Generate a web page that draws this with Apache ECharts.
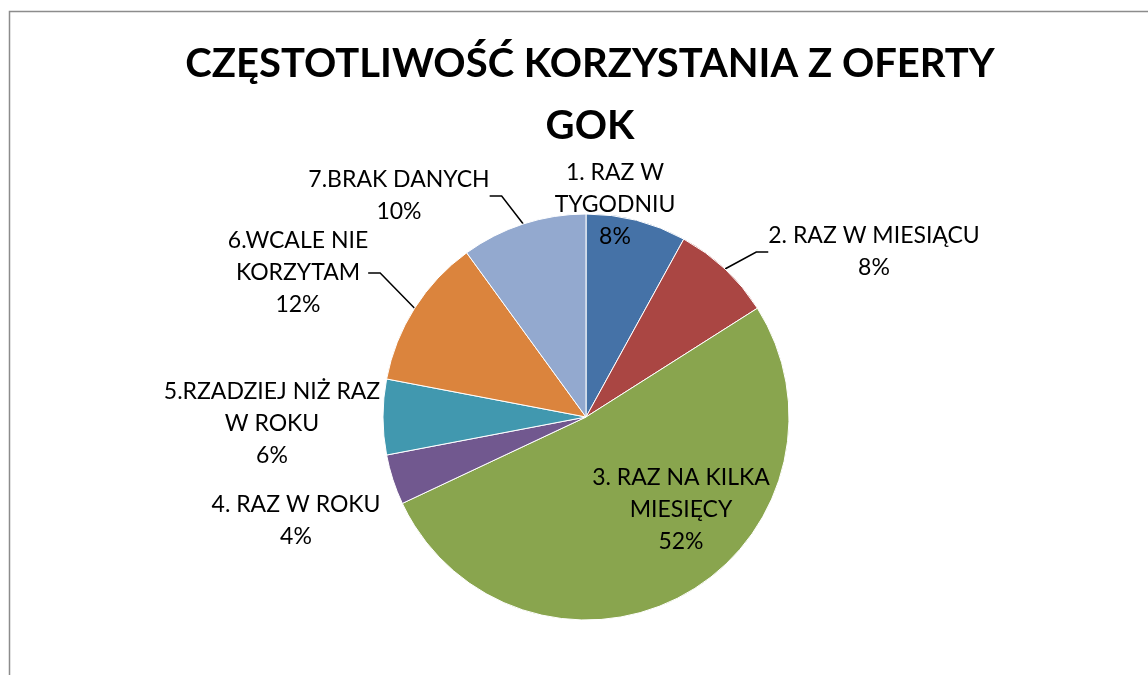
<!DOCTYPE html>
<html>
<head>
<meta charset="utf-8">
<script src="https://cdn.jsdelivr.net/npm/echarts@6/dist/echarts.min.js"></script>
<style>
  html, body { margin: 0; padding: 0; background: #fff; }
  #chart { width: 1148px; height: 675px; }
</style>
</head>
<body>
<div id="chart"></div>
<script>
// data
const categories = [
  '1. RAZ W\nTYGODNIU',
  '2. RAZ W MIESIĄCU',
  '3. RAZ NA KILKA\nMIESIĘCY',
  '4. RAZ W ROKU',
  '5.RZADZIEJ NIŻ RAZ\nW ROKU',
  '6.WCALE NIE\nKORZYTAM',
  '7.BRAK DANYCH'
]
const values = [8, 8, 52, 4, 6, 12, 10]
const colors = ['#4572a7', '#aa4643', '#89a54e', '#71588f', '#4198af', '#db843d', '#93a9cf']

// label centres (px), Excel-like manual placement
const labelPos = [
  [615, 205], [874, 252], [681, 510], [296, 521], [272, 424], [298, 273], [399, 196]
]
const noLine = [2, 3, 4]

const chart = echarts.init(document.getElementById('chart'))

chart.setOption({
  animation: false,
  title: {
    text: 'CZĘSTOTLIWOŚĆ KORZYSTANIA Z OFERTY\nGOK',
    left: 585,
    top: 28,
    textAlign: 'center',
    textStyle: {
      fontFamily: 'Lato',
      fontWeight: 'bold',
      fontSize: 40,
      lineHeight: 62,
      color: '#000'
    }
  },
  graphic: [{
    type: 'rect',
    shape: { x: 9.5, y: 11.5, width: 1200, height: 700 },
    style: { fill: null, stroke: '#8c8c8c', lineWidth: 1.5 },
    silent: true
  }],
  series: [{
    type: 'pie',
    center: [586, 417],
    radius: 203,
    startAngle: 90,
    clockwise: true,
    avoidLabelOverlap: false,
    itemStyle: { borderColor: '#fff', borderWidth: 1 },
    label: {
      show: true,
      position: 'outside',
      formatter: p => p.name + '\n' + p.value + '%',
      fontFamily: 'Lato',
      fontSize: 23,
      lineHeight: 32,
      color: '#000'
    },
    labelLine: {
      show: true,
      length: 12,
      length2: 12,
      lineStyle: { color: '#000', width: 1.5 }
    },
    labelLayout: p => ({
      x: labelPos[p.dataIndex][0],
      y: labelPos[p.dataIndex][1],
      align: 'center',
      verticalAlign: 'middle'
    }),
    emphasis: { disabled: true },
    data: categories.map((name, i) => ({
      name,
      value: values[i],
      itemStyle: { color: colors[i] },
      labelLine: { show: noLine.indexOf(i) < 0 }
    }))
  }]
})
</script>
</body>
</html>
